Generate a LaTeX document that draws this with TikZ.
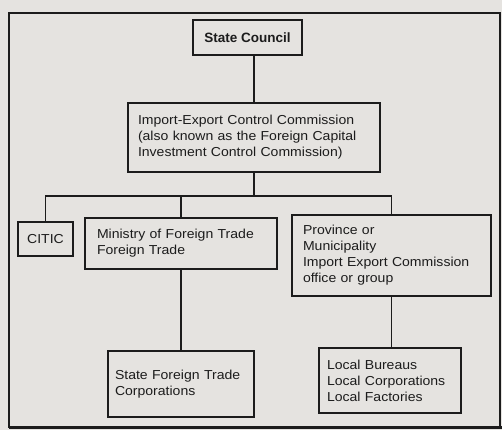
\documentclass[tikz,border=0pt]{standalone}
\usepackage{fontspec}
\newfontfamily\chartfont{Liberation Sans}[FakeStretch=1.08]
\newfontfamily\headfont{Liberation Sans}
\definecolor{paper}{RGB}{229,227,224}
\definecolor{ink}{RGB}{28,28,28}
\begin{document}
\begin{tikzpicture}[x=1pt,y=-1pt,
  every node/.style={font=\chartfont\fontsize{13}{16}\selectfont, text=ink},
  orgbox/.style={draw=ink, line width=1.2pt, rectangle, inner ysep=0pt, align=left},
  link/.style={draw=ink, line width=1.2pt}
]
  % page
  \useasboundingbox[fill=paper] (0,0) rectangle (502,430);
  \draw[ink, line width=2pt] (9,13) rectangle (500,427);
  \draw[ink, line width=3pt] (9,427) -- (502,427);

  % boxes
  \node[orgbox, minimum width=109, minimum height=35, align=center,
        font=\headfont\bfseries\fontsize{13.5}{16}\selectfont] (sc) at (247.5,37.5) {State Council};
  \node[orgbox, text width=232, inner xsep=10, minimum height=69] (iecc) at (254,137.5)
    {Import-Export Control Commission\\(also known as the Foreign Capital\\Investment Control Commission)};
  \node[orgbox, minimum width=55, minimum height=34, align=center, inner xsep=2] (citic) at (45.5,239) {CITIC};
  \node[orgbox, text width=168, inner xsep=12, minimum height=51] (mft) at (181,243.5)
    {Ministry of Foreign Trade\\Foreign Trade};
  \node[orgbox, text width=177, inner xsep=11, minimum height=81] (prov) at (391.5,255.5)
    {Province or\\Municipality\\Import Export Commission\\office or group};
  \node[orgbox, text width=132, inner xsep=7, minimum height=66] (sftc) at (181,384)
    {State Foreign Trade\\Corporations};
  \node[orgbox, text width=126, inner xsep=8, minimum height=65] (local) at (390,380.5)
    {Local Bureaus\\Local Corporations\\Local Factories};

  % connectors
  \coordinate (bus) at (254,196);
  \draw[link] (iecc.north) -- (iecc.north |- sc.south);
  \draw[link] (iecc.south) -- (bus);
  \draw[link] (citic.north) |- (bus) -| (prov.north);
  \draw[link] (mft.north) -- (mft.north |- bus);
  \draw[link] (mft.south) -- (sftc.north);
  \draw[link] (prov.south) -- (prov.south |- local.north);
\end{tikzpicture}
\end{document}
